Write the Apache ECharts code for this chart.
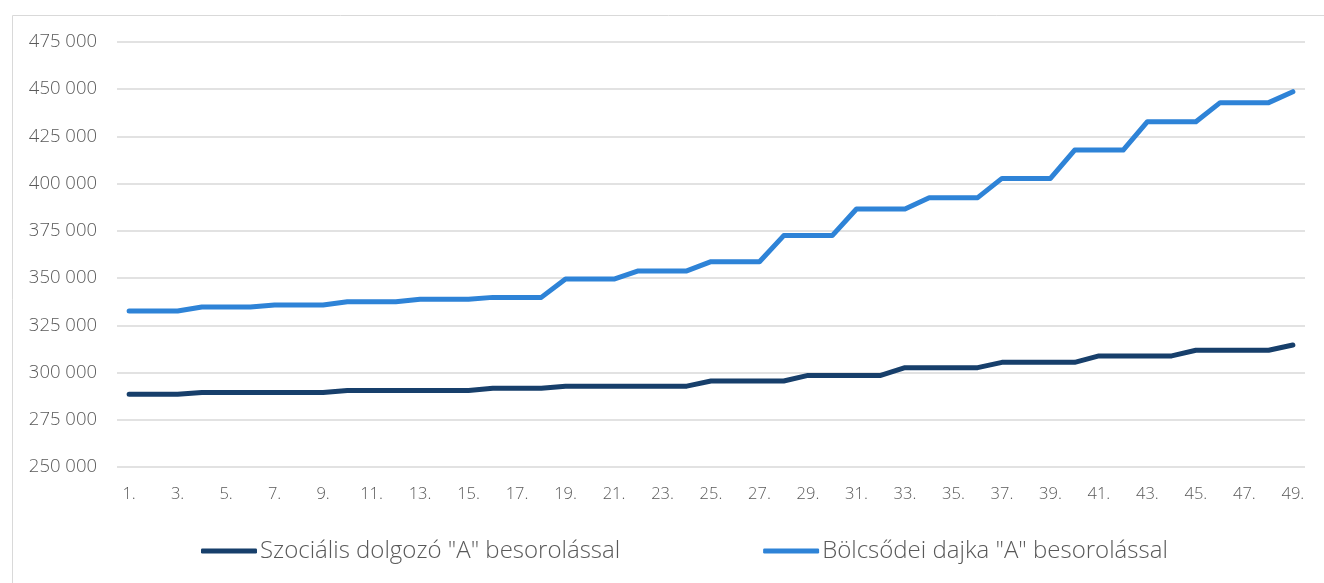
<!DOCTYPE html>
<html>
<head>
<meta charset="utf-8">
<script src="https://cdn.jsdelivr.net/npm/echarts@6/dist/echarts.min.js"></script>
<style>
  html, body { margin: 0; padding: 0; background: #fff; }
  #main { width: 1324px; height: 583px; }
</style>
</head>
<body>
<div id="main"></div>
<script>
var categories = [];
for (var i = 1; i <= 49; i++) categories.push(i + '.');

var szocialis = [
  288500, 288500, 288500,
  289500, 289500, 289500, 289500, 289500, 289500,
  290500, 290500, 290500, 290500, 290500, 290500,
  291700, 291700, 291700,
  292800, 292800, 292800, 292800, 292800, 292800,
  295500, 295500, 295500, 295500,
  298500, 298500, 298500, 298500,
  302600, 302600, 302600, 302600,
  305400, 305400, 305400, 305400,
  308800, 308800, 308800, 308800,
  311800, 311800, 311800, 311800,
  314600
];

var bolcsodei = [
  332600, 332600, 332600,
  334700, 334700, 334700,
  335800, 335800, 335800,
  337500, 337500, 337500,
  338800, 338800, 338800,
  339800, 339800, 339800,
  349500, 349500, 349500,
  353800, 353800, 353800,
  358700, 358700, 358700,
  372500, 372500, 372500,
  386600, 386600, 386600,
  392600, 392600, 392600,
  402800, 402800, 402800,
  417800, 417800, 417800,
  432800, 432800, 432800,
  442900, 442900, 442900,
  448700
];

var seriesNames = ['Szociális dolgozó "A" besorolással', 'Bölcsődei dajka "A" besorolással'];
var colors = ['#173f6b', '#2e83d7'];

var myChart = echarts.init(document.getElementById('main'));

function fmt(v) {
  return String(v).replace(/\B(?=(\d{3})+(?!\d))/g, ' ');
}

var option = {
  animation: false,
  color: colors,
  textStyle: { fontFamily: 'Open Sans' },
  graphic: [{
    type: 'rect',
    left: 10,
    top: 13,
    shape: { width: 1340, height: 600 },
    style: { fill: 'none', stroke: '#d9d9d9', lineWidth: 1 },
    silent: true
  }],
  grid: { left: 117, right: 19, top: 42, bottom: 116 },
  legend: {
    left: 196,
    top: 534,
    itemWidth: 56,
    itemHeight: 5,
    itemGap: 143,
    itemStyle: { borderWidth: 0 },
    icon: 'roundRect',
    textStyle: { fontSize: 24, color: '#595959', fontWeight: 300, padding: [0, 0, 0, -2] },
    data: seriesNames
  },
  xAxis: {
    type: 'category',
    data: categories,
    boundaryGap: true,
    axisLine: { show: false },
    axisTick: { show: false },
    axisLabel: { interval: 1, color: '#595959', fontSize: 16.5, fontWeight: 300, margin: 19 }
  },
  yAxis: {
    type: 'value',
    min: 250000,
    max: 475000,
    interval: 25000,
    axisLine: { show: false },
    axisTick: { show: false },
    splitLine: { lineStyle: { color: '#d9d9d9', width: 1.5 } },
    axisLabel: { color: '#595959', fontSize: 18.5, fontWeight: 300, margin: 20, formatter: fmt }
  },
  series: [
    {
      name: seriesNames[0],
      type: 'line',
      data: szocialis,
      symbol: 'none',
      lineStyle: { width: 5, cap: 'round', join: 'round' }
    },
    {
      name: seriesNames[1],
      type: 'line',
      data: bolcsodei,
      symbol: 'none',
      lineStyle: { width: 5, cap: 'round', join: 'round' }
    }
  ]
};

myChart.setOption(option);
</script>
</body>
</html>
